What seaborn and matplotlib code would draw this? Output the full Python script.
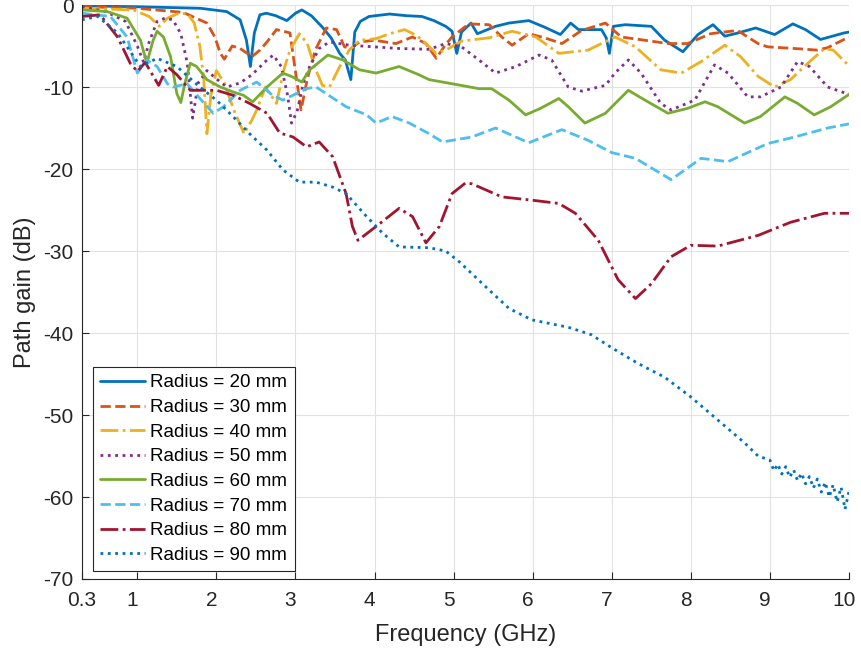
import numpy as np
import pandas as pd
import matplotlib
matplotlib.use("Agg")
import matplotlib.pyplot as plt
import matplotlib.transforms as mtransforms
import seaborn as sns

# series (frequency in GHz, gain in dB)
f20 = [0.3, 0.95, 1.8, 2.13, 2.3, 2.38, 2.43, 2.48, 2.55, 2.63, 2.75, 2.89, 3.0, 3.08, 3.2, 3.34, 3.45, 3.56, 3.63,
       3.7, 3.75, 3.82, 3.93, 4.19, 4.4, 4.6, 4.75, 4.9, 4.98, 5.04, 5.1, 5.22, 5.3, 5.53, 5.7, 5.95, 6.15, 6.35, 6.48,
       6.58, 6.87, 6.93, 6.97, 7.02, 7.17, 7.5, 7.67, 7.9, 8.09, 8.28, 8.43, 8.6, 8.82, 9.06, 9.29, 9.45, 9.64, 9.94, 10]
g20 = [-0.1, -0.2, -0.4, -0.8, -1.8, -4.3, -7.5, -3.4, -1.2, -1.0, -1.3, -1.9, -1.0, -0.6, -1.3, -2.7, -4.0, -5.9, -6.7,
       -9.1, -3.3, -2.0, -1.4, -1.1, -1.3, -1.4, -1.9, -2.6, -3.2, -5.9, -3.3, -2.2, -3.5, -2.6, -2.2, -1.9, -2.7, -3.6,
       -2.2, -3.0, -3.0, -4.0, -5.9, -2.6, -2.4, -2.6, -4.3, -5.7, -3.6, -2.4, -3.8, -3.4, -2.8, -3.6, -2.3, -3.0, -4.2,
       -3.4, -3.3]

f30 = [0.3, 1.0, 1.58, 1.88, 1.98, 2.05, 2.1, 2.2, 2.3, 2.45, 2.55, 2.64, 2.76, 2.93, 3.01, 3.07, 3.15, 3.25, 3.39,
       3.52, 3.62, 3.7, 3.81, 4.0, 4.27, 4.48, 4.65, 4.78, 4.9, 4.98, 5.1, 5.19, 5.45, 5.61, 5.74, 5.95, 6.15, 6.37,
       6.62, 6.92, 7.12, 7.42, 7.71, 7.96, 8.25, 8.59, 8.85, 8.97, 9.31, 9.6, 9.73, 10]
g30 = [-0.2, -0.4, -0.9, -2.2, -3.9, -5.9, -6.6, -5.0, -5.3, -6.3, -5.5, -4.5, -3.0, -3.4, -8.8, -12.8, -9.0, -5.5,
       -2.8, -3.0, -5.1, -5.3, -4.5, -4.3, -4.7, -3.9, -4.7, -6.5, -4.8, -3.9, -3.0, -2.3, -2.4, -3.9, -4.9, -3.5, -4.0,
       -4.7, -3.1, -2.2, -3.9, -4.3, -4.7, -4.7, -3.5, -3.1, -4.7, -5.1, -5.3, -5.5, -5.2, -3.9]

f40 = [0.3, 0.95, 1.15, 1.28, 1.38, 1.5, 1.63, 1.72, 1.79, 1.84, 1.88, 1.93, 2.0, 2.1, 2.22, 2.35, 2.45, 2.51, 2.62,
       2.76, 2.85, 2.93, 3.05, 3.15, 3.24, 3.34, 3.43, 3.56, 3.68, 3.81, 4.02, 4.19, 4.38, 4.53, 4.65, 4.78, 4.94, 5.1,
       5.45, 5.74, 6.04, 6.33, 6.7, 7.04, 7.3, 7.62, 7.88, 8.13, 8.43, 8.63, 8.85, 9.06, 9.26, 9.48, 9.69, 9.8, 10]
g40 = [-0.4, -0.6, -1.4, -2.6, -1.6, -1.1, -1.0, -2.2, -5.0, -9.0, -15.7, -11.0, -8.0, -9.5, -12.8, -15.7, -14.0,
       -12.8, -10.0, -12.0, -8.0, -5.5, -3.5, -4.7, -7.5, -9.8, -10.0, -7.5, -5.5, -4.3, -4.1, -3.5, -3.0, -3.7, -4.7,
       -5.9, -5.3, -4.4, -4.0, -3.2, -3.9, -5.9, -5.5, -3.9, -5.1, -7.9, -8.3, -6.9, -4.9, -6.3, -8.7, -10.0, -9.1,
       -7.1, -5.3, -5.5, -7.4]

f50 = [0.3, 0.6, 0.85, 1.0, 1.08, 1.15, 1.25, 1.35, 1.45, 1.55, 1.63, 1.7, 1.77, 1.88, 2.0, 2.13, 2.3, 2.45, 2.64,
       2.72, 2.82, 2.9, 2.95, 3.02, 3.1, 3.18, 3.3, 3.43, 3.68, 4.3, 4.69, 4.9, 5.1, 5.32, 5.53, 5.79, 6.08, 6.24, 6.45,
       6.62, 6.92, 7.04, 7.21, 7.37, 7.62, 7.75, 8.05, 8.3, 8.47, 8.72, 8.88, 9.14, 9.35, 9.5, 9.73, 9.94, 10]
g50 = [-0.2, -0.8, -2.0, -5.0, -7.0, -4.5, -2.0, -1.6, -1.8, -3.5, -7.0, -13.8, -9.5, -8.0, -9.0, -10.0, -9.5, -8.5,
       -6.7, -6.1, -7.5, -11.0, -14.4, -13.0, -9.5, -7.5, -5.3, -4.5, -4.9, -5.3, -5.4, -4.7, -5.1, -6.7, -8.3, -7.5,
       -6.1, -6.7, -10.0, -10.5, -9.8, -8.3, -6.7, -8.3, -12.0, -12.8, -11.6, -7.3, -8.3, -11.2, -11.2, -10.0, -6.9,
       -7.5, -10.0, -10.7, -10.8]

f60 = [0.3, 0.62, 0.87, 1.04, 1.12, 1.2, 1.25, 1.33, 1.42, 1.5, 1.55, 1.6, 1.67, 1.75, 1.88, 2.05, 2.21, 2.34, 2.46,
       2.64, 2.84, 2.97, 3.08, 3.18, 3.41, 3.6, 3.81, 4.02, 4.31, 4.56, 4.69, 4.98, 5.32, 5.48, 5.7, 5.91, 6.1, 6.33,
       6.45, 6.66, 6.92, 7.21, 7.42, 7.71, 7.96, 8.18, 8.34, 8.68, 8.88, 9.19, 9.35, 9.56, 9.77, 10]
g60 = [-0.6, -0.8, -1.6, -4.3, -7.1, -4.3, -3.2, -3.9, -6.3, -10.8, -11.9, -9.6, -7.1, -7.5, -9.1, -10.0, -10.6, -11.0,
       -11.8, -10.0, -8.3, -8.8, -9.4, -7.9, -6.1, -6.7, -7.9, -8.3, -7.5, -8.5, -9.1, -9.6, -10.2, -10.2, -11.6, -13.4,
       -12.6, -11.4, -12.4, -14.4, -13.2, -10.4, -11.6, -13.2, -12.6, -11.8, -12.4, -14.4, -13.6, -11.2, -12.0, -13.4,
       -12.4, -10.9]

f70 = [0.3, 0.66, 0.87, 1.0, 1.12, 1.25, 1.38, 1.45, 1.63, 1.8, 1.96, 2.09, 2.3, 2.51, 2.71, 2.84, 3.14, 3.26, 3.64,
       3.9, 4.02, 4.22, 4.44, 4.69, 4.86, 5.23, 5.53, 5.95, 6.37, 6.7, 7.0, 7.3, 7.75, 8.13, 8.47, 8.97, 9.31, 9.73, 10]
g70 = [-1.0, -1.4, -3.9, -8.3, -6.7, -7.5, -9.6, -10.0, -9.6, -11.5, -13.2, -12.4, -10.4, -9.4, -11.0, -11.6, -10.2,
       -10.0, -12.4, -13.4, -14.4, -13.6, -14.4, -15.7, -16.7, -16.1, -15.0, -16.8, -15.2, -16.5, -18.0, -18.7, -21.3,
       -18.7, -19.1, -16.9, -16.1, -15.0, -14.5]

f80 = [0.3, 0.53, 0.75, 0.91, 1.0, 1.1, 1.27, 1.38, 1.5, 1.67, 2.0, 2.21, 2.42, 2.64, 2.8, 2.97, 3.14, 3.3, 3.47, 3.64,
       3.72, 3.79, 4.02, 4.31, 4.48, 4.65, 4.82, 4.98, 5.15, 5.23, 5.61, 5.99, 6.33, 6.54, 6.83, 7.08, 7.3, 7.5, 7.75,
       8.0, 8.34, 8.85, 9.26, 9.69, 10]
g80 = [-1.4, -1.2, -3.9, -7.1, -8.1, -7.0, -9.8, -7.5, -8.5, -10.4, -10.4, -11.0, -12.0, -13.2, -15.6, -16.1, -17.3,
       -16.7, -18.5, -23.0, -27.0, -28.7, -27.0, -24.8, -25.8, -29.0, -27.0, -23.0, -21.7, -21.8, -23.4, -23.8, -24.2,
       -25.4, -28.7, -33.5, -35.8, -34.0, -30.7, -29.3, -29.4, -28.1, -26.5, -25.4, -25.4]

f90 = [0.3, 0.5, 0.75, 1.04, 1.25, 1.5, 1.79, 2.0, 2.21, 2.42, 2.64, 2.84, 3.05, 3.26, 3.47, 3.64, 3.9, 4.1, 4.31,
       4.69, 4.9, 5.07, 5.41, 5.7, 5.99, 6.45, 6.74, 7.0, 7.33, 7.67, 8.0, 8.34, 8.68, 8.85, 9.0, 9.05, 9.1, 9.15, 9.2,
       9.25, 9.3, 9.35, 9.4, 9.45, 9.5, 9.55, 9.6, 9.65, 9.7, 9.75, 9.8, 9.85, 9.9, 9.95, 10]
g90 = [-1.8, -1.4, -3.4, -7.5, -6.5, -7.5, -10.0, -11.6, -13.6, -15.7, -17.7, -20.1, -21.6, -21.6, -22.2, -23.0, -25.8,
       -27.8, -29.5, -29.6, -30.0, -31.3, -34.4, -37.0, -38.4, -39.3, -40.2, -41.8, -43.7, -45.4, -47.8, -50.6, -53.4,
       -55.0, -55.5, -56.8, -56.0, -57.2, -56.3, -57.6, -56.7, -58.0, -57.1, -58.4, -57.5, -58.9, -57.8, -59.4, -58.2,
       -60.0, -58.5, -60.6, -58.8, -61.5, -59.3]

labels = ["Radius = 20 mm", "Radius = 30 mm", "Radius = 40 mm", "Radius = 50 mm",
          "Radius = 60 mm", "Radius = 70 mm", "Radius = 80 mm", "Radius = 90 mm"]
freqs = [f20, f30, f40, f50, f60, f70, f80, f90]
gains = [g20, g30, g40, g50, g60, g70, g80, g90]

colors = ["#0072BD", "#D95319", "#EDB120", "#7E2F8E", "#77AC30", "#4DBEEE", "#A2142F", "#0072BD"]
styles = ["-", "--", "-.", ":", "-", "--", "-.", ":"]
xticks = [0.3, 1, 2, 3, 4, 5, 6, 7, 8, 9, 10]
yticks = [0, -10, -20, -30, -40, -50, -60, -70]

sns.set_theme(style="whitegrid")
plt.rcParams["font.family"] = ["Liberation Sans", "DejaVu Sans"]
plt.rcParams["axes.unicode_minus"] = False
txt = "#262626"

fig = plt.figure(figsize=(8.62, 6.51), dpi=100)
ax = fig.add_axes([0.0951, 0.1106, 0.8898, 0.8817])

for lab, f, g, c, ls in zip(labels, freqs, gains, colors, styles):
    df = pd.DataFrame({"freq": f, "gain": g})
    sns.lineplot(data=df, x="freq", y="gain", ax=ax, color=c, linestyle=ls,
                 linewidth=2, label=lab, estimator=None, sort=False)

ax.set_xlim(0.3, 10)
ax.set_ylim(-70, 0)
ax.set_xticks(xticks)
ax.set_xticklabels([str(t) for t in xticks])
ax.set_yticks(yticks)
ax.set_xlabel("Frequency (GHz)", fontsize=17, color=txt, va="center")
ax.set_ylabel("Path gain (dB)", fontsize=17, color=txt, va="center")
ax.xaxis.set_label_coords(0.5, -0.097)
ax.yaxis.set_label_coords(-0.074, 0.5)
ax.tick_params(direction="in", length=5, width=0.8, colors=txt, labelsize=15,
               bottom=True, left=True, top=False, right=False)
ax.tick_params(axis="x", pad=9)
ax.tick_params(axis="y", pad=6)
ax.grid(True, color="#E2E2E2", linewidth=0.8)
ax.set_facecolor("white")
for s in ["top", "right"]:
    ax.spines[s].set_visible(False)
for s in ["left", "bottom"]:
    ax.spines[s].set_color(txt)
    ax.spines[s].set_linewidth(0.8)

# the reference's integer tick labels sit a few pixels left of their ticks
for lbl in ax.get_xticklabels()[1:]:
    lbl.set_transform(lbl.get_transform() + mtransforms.ScaledTranslation(-5 / 100, 0, fig.dpi_scale_trans))

leg = ax.legend(loc="lower left", bbox_to_anchor=(0.014, 0.014), borderaxespad=0,
                fontsize=13.5, handlelength=2.4, handletextpad=0.3, labelspacing=0.4,
                borderpad=0.38, fancybox=False, framealpha=1, edgecolor=txt)
leg.get_frame().set_linewidth(0.8)
for t in leg.get_texts():
    t.set_color("black")

fig.savefig("out.png", dpi=100)
